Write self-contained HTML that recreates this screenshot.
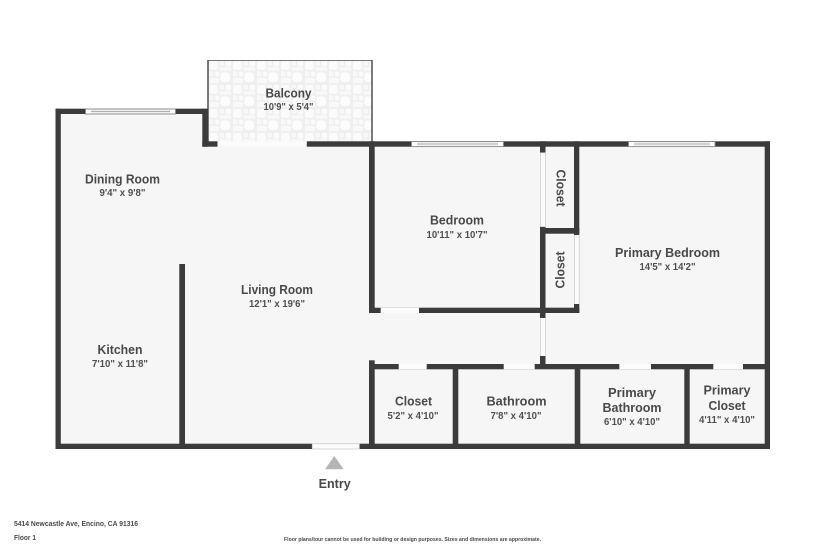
<!DOCTYPE html>
<html><head><meta charset="utf-8"><style>
html,body{margin:0;padding:0;background:#fff;width:825px;height:550px;overflow:hidden}
svg{display:block}
text{font-family:"Liberation Sans",sans-serif;fill:#4a4a4a;text-anchor:middle;font-weight:bold}
.t{font-size:12.5px}
.d{font-size:10px;fill:#505050}
</style></head><body>
<svg width="825" height="550" viewBox="0 0 825 550" xmlns="http://www.w3.org/2000/svg">
<defs>
<pattern id="tile" width="24" height="24" patternUnits="userSpaceOnUse" x="208" y="60">
<rect width="24" height="24" fill="#efefef"/>
<rect x="1" y="1" width="9" height="9" rx="2.5" fill="#fbfbfb"/>
<rect x="11.5" y="1" width="4.5" height="4.5" fill="#f8f8f8"/>
<rect x="17.5" y="1" width="5.5" height="5.5" rx="1" fill="#fbfbfb"/>
<rect x="11.5" y="7" width="11.5" height="4" fill="#f8f8f8"/>
<rect x="1" y="11.5" width="4.5" height="5" fill="#f8f8f8"/>
<rect x="7" y="11.5" width="4" height="5" fill="#fbfbfb"/>
<rect x="12.5" y="12.5" width="9.5" height="9.5" rx="2.5" fill="#fcfcfc"/>
<rect x="1" y="18" width="10" height="5" rx="1" fill="#f9f9f9"/>
</pattern>
<filter id="b" x="0" y="0" width="100%" height="100%"><feGaussianBlur stdDeviation="0.35"/></filter>
</defs>
<g filter="url(#b)">
<!-- floor -->
<path d="M58 111H205V144H372V144H767V446H58Z" fill="#f6f6f6"/>
<!-- balcony -->
<rect x="208" y="60" width="164" height="85" fill="url(#tile)" stroke="#505050" stroke-width="1.5"/>
<g fill="#3b3b3b">
<!-- outer -->
<rect x="55.5" y="108.7" width="5.3" height="340.3"/>
<rect x="55.5" y="108.7" width="152.5" height="5.3"/>
<rect x="202.3" y="108.7" width="5.6" height="38"/>
<rect x="202.3" y="141.3" width="15.2" height="5.4"/>
<rect x="306.7" y="141.3" width="463.3" height="5.4"/>
<rect x="764.7" y="141.3" width="5.3" height="307.7"/>
<rect x="55.5" y="443.7" width="714.5" height="5.3"/>
<!-- kitchen -->
<rect x="179.3" y="264" width="5.7" height="182"/>
<!-- bedroom -->
<rect x="369" y="141.3" width="5.7" height="171.7"/>
<rect x="369" y="307.7" width="210.3" height="5.3"/>
<rect x="540" y="141.3" width="5.5" height="11.4"/>
<rect x="540" y="226.7" width="5.5" height="91.3"/>
<rect x="540" y="356" width="5.5" height="10"/>
<rect x="574" y="141.3" width="5.3" height="93.7"/>
<rect x="540" y="228" width="39.3" height="5.7"/>
<rect x="574" y="304" width="5.3" height="9"/>
<!-- lower rooms -->
<rect x="369" y="360.3" width="5.7" height="88"/>
<rect x="369" y="364" width="401" height="5.3"/>
<rect x="452.7" y="364" width="5.6" height="83"/>
<rect x="574.7" y="364" width="5.6" height="83"/>
<rect x="684.3" y="364" width="5.4" height="83"/>
</g>
<!-- openings -->
<g fill="#fbfbfb">
<rect x="217.5" y="141.3" width="89.2" height="5.4"/>
<rect x="380.7" y="307.7" width="38.3" height="5.3"/>
<rect x="398.7" y="364" width="28" height="5.3"/>
<rect x="503.7" y="364" width="31" height="5.3"/>
<rect x="619.3" y="364" width="31.7" height="5.3"/>
<rect x="713.3" y="364" width="29.7" height="5.3"/>
<rect x="312.3" y="443.7" width="47" height="5.3"/>
<rect x="540.5" y="152.7" width="5" height="74"/>
<rect x="540.5" y="318" width="5" height="38"/>
<rect x="574.5" y="235" width="4.8" height="69"/>
</g>
<g fill="none" stroke="#d0d0d0" stroke-width="0.8">
<rect x="312.3" y="443.7" width="47" height="5.3"/>
<line x1="540.5" y1="152.7" x2="540.5" y2="226.7"/>
<line x1="545.5" y1="152.7" x2="545.5" y2="226.7"/>
<line x1="545.5" y1="318" x2="545.5" y2="356"/>
<line x1="540.5" y1="318" x2="540.5" y2="356"/>
<line x1="574.5" y1="235" x2="574.5" y2="304"/>
<line x1="579.3" y1="235" x2="579.3" y2="304"/>
</g>
<!-- windows -->
<g fill="#f0f0f0" stroke="#8a8a8a" stroke-width="0.9">
<rect x="85.5" y="109" width="90" height="5"/>
<rect x="411.5" y="141.6" width="92" height="5"/>
<rect x="628.5" y="141.6" width="86.5" height="5"/>
</g>
<g fill="#fff">
<rect x="86" y="109.5" width="5" height="4"/><rect x="170" y="109.5" width="5" height="4"/>
<rect x="412" y="142" width="5" height="4"/><rect x="498" y="142" width="5" height="4"/>
<rect x="629" y="142" width="5" height="4"/><rect x="710" y="142" width="4.5" height="4"/>
</g>
<g stroke="#9a9a9a" stroke-width="0.7">
<line x1="91" y1="111.5" x2="170" y2="111.5"/>
<line x1="417" y1="144" x2="498" y2="144"/>
<line x1="634" y1="144" x2="710" y2="144"/>
</g>
<!-- entry -->
<polygon points="334.3,456 325,469.3 343.7,469.3" fill="#b5b5b5"/>
<!-- labels -->
<text class="t" x="122.5" y="183.5" textLength="75" lengthAdjust="spacingAndGlyphs">Dining Room</text>
<text class="d" x="122.5" y="196" textLength="46" lengthAdjust="spacingAndGlyphs">9'4" x 9'8"</text>
<text class="t" x="288.5" y="97.5" textLength="46" lengthAdjust="spacingAndGlyphs">Balcony</text>
<text class="d" x="288.5" y="110" textLength="50" lengthAdjust="spacingAndGlyphs">10'9" x 5'4"</text>
<text class="t" x="277" y="294" textLength="72" lengthAdjust="spacingAndGlyphs">Living Room</text>
<text class="d" x="277" y="307" textLength="56" lengthAdjust="spacingAndGlyphs">12'1" x 19'6"</text>
<text class="t" x="120" y="354" textLength="45" lengthAdjust="spacingAndGlyphs">Kitchen</text>
<text class="d" x="120" y="367" textLength="56" lengthAdjust="spacingAndGlyphs">7'10" x 11'8"</text>
<text class="t" x="457" y="224.5" textLength="54" lengthAdjust="spacingAndGlyphs">Bedroom</text>
<text class="d" x="457" y="238" textLength="61" lengthAdjust="spacingAndGlyphs">10'11" x 10'7"</text>
<text class="t" x="667.5" y="257" textLength="105" lengthAdjust="spacingAndGlyphs">Primary Bedroom</text>
<text class="d" x="667.5" y="270" textLength="56" lengthAdjust="spacingAndGlyphs">14'5" x 14'2"</text>
<text class="t" transform="translate(556.5,188) rotate(90)" textLength="37" lengthAdjust="spacingAndGlyphs">Closet</text>
<text class="t" transform="translate(564.5,270) rotate(-90)" textLength="37" lengthAdjust="spacingAndGlyphs">Closet</text>
<text class="t" x="413.5" y="405.5" textLength="37" lengthAdjust="spacingAndGlyphs">Closet</text>
<text class="d" x="413" y="419" textLength="51" lengthAdjust="spacingAndGlyphs">5'2" x 4'10"</text>
<text class="t" x="516.5" y="405.5" textLength="60" lengthAdjust="spacingAndGlyphs">Bathroom</text>
<text class="d" x="516" y="419" textLength="51" lengthAdjust="spacingAndGlyphs">7'8" x 4'10"</text>
<text class="t" x="632" y="397" textLength="48" lengthAdjust="spacingAndGlyphs">Primary</text>
<text class="t" x="632" y="412" textLength="59" lengthAdjust="spacingAndGlyphs">Bathroom</text>
<text class="d" x="632" y="425" textLength="56" lengthAdjust="spacingAndGlyphs">6'10" x 4'10"</text>
<text class="t" x="727" y="394.5" textLength="47" lengthAdjust="spacingAndGlyphs">Primary</text>
<text class="t" x="727" y="410" textLength="37" lengthAdjust="spacingAndGlyphs">Closet</text>
<text class="d" x="727" y="423" textLength="56" lengthAdjust="spacingAndGlyphs">4'11" x 4'10"</text>
<text class="t" x="334.7" y="488" textLength="32" lengthAdjust="spacingAndGlyphs">Entry</text>
<text x="14" y="526" style="text-anchor:start;font-size:7px" textLength="124" lengthAdjust="spacingAndGlyphs">5414 Newcastle Ave, Encino, CA 91316</text>
<text x="14" y="540" style="text-anchor:start;font-size:7px" textLength="22" lengthAdjust="spacingAndGlyphs">Floor 1</text>
<text x="284" y="541" style="text-anchor:start;font-size:5.5px" textLength="257" lengthAdjust="spacingAndGlyphs">Floor plans/tour cannot be used for building or design purposes. Sizes and dimensions are approximate.</text>
</g>
</svg>
</body></html>
